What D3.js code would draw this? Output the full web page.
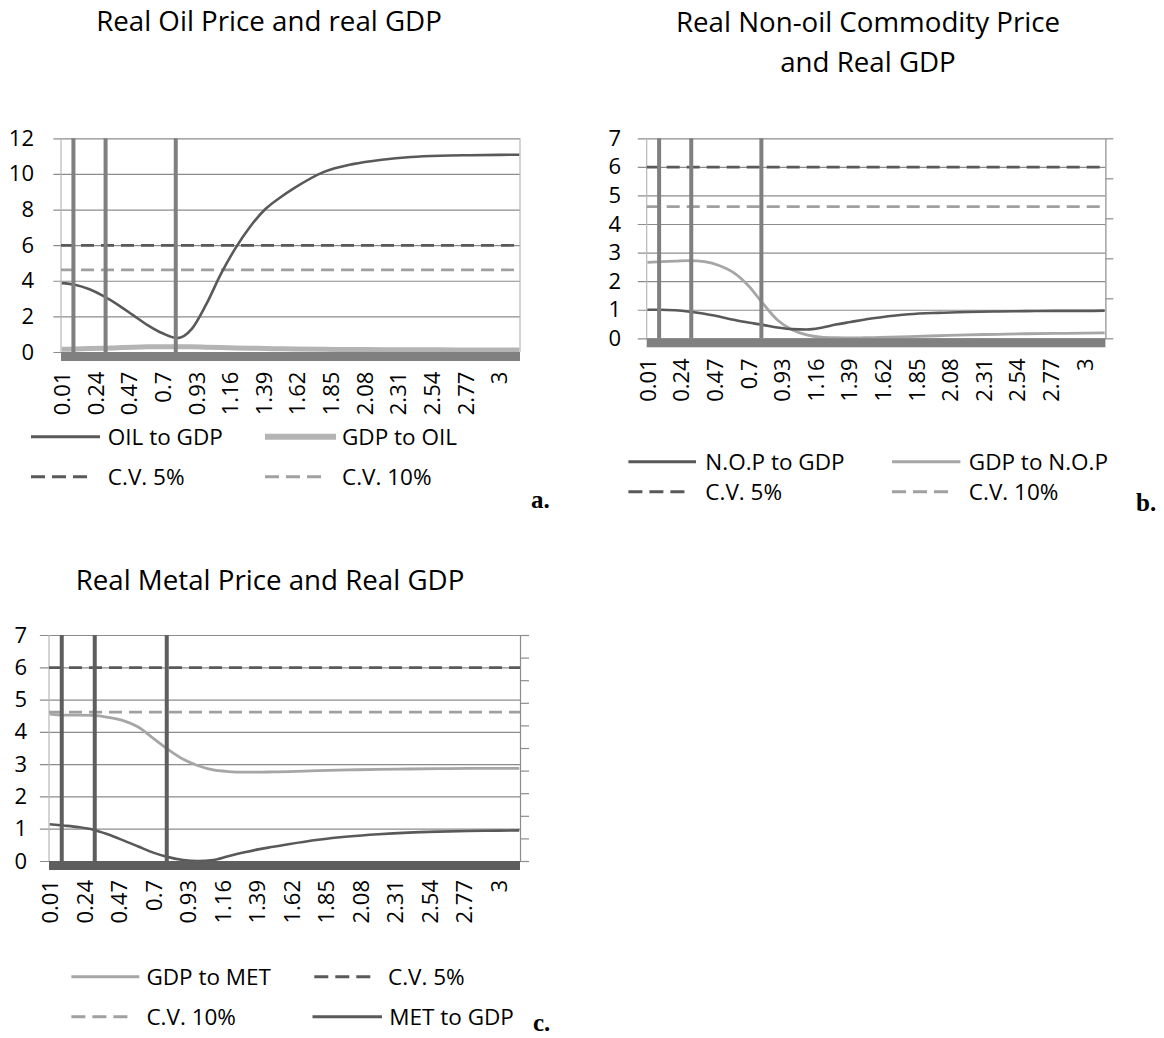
<!DOCTYPE html>
<html>
<head>
<meta charset="utf-8">
<script src="https://cdn.jsdelivr.net/npm/d3@7"></script>
<style>
  body { margin: 0; background: #fff; }
  svg { display: block; }
</style>
</head>
<body>
<svg id="chart" width="1164" height="1038"></svg>
<script>
// Frequencies (radians) at which each causality measure is sampled
const freq = [0.01, 0.1, 0.2, 0.3, 0.4, 0.5, 0.6, 0.7, 0.8, 0.9, 1.0, 1.1, 1.2, 1.3, 1.4, 1.5, 1.6, 1.8, 2.0, 2.2, 2.4, 2.6, 2.8, 3.0, 3.14];

// Category tick labels shown under each panel
const freqTickValues = [0.01, 0.24, 0.47, 0.7, 0.93, 1.16, 1.39, 1.62, 1.85, 2.08, 2.31, 2.54, 2.77, 3.0];
const freqTickLabels = ["0.01", "0.24", "0.47", "0.7", "0.93", "1.16", "1.39", "1.62", "1.85", "2.08", "2.31", "2.54", "2.77", "3"];

// Frequencies where the bound series spikes off the scale
const breakFreqs = [0.09, 0.31, 0.79];

// Critical values of the test statistic
const cv5 = 5.99;
const cv10 = 4.61;

// Panel a: oil
const oilToGdp = [3.87, 3.78, 3.52, 3.12, 2.62, 2.06, 1.5, 1.05, 0.78, 1.3, 2.7, 4.4, 5.85, 7.05, 8.0, 8.65, 9.2, 10.1, 10.55, 10.8, 10.95, 11.02, 11.05, 11.07, 11.08];
const gdpToOil = [0.15, 0.17, 0.19, 0.21, 0.24, 0.27, 0.29, 0.3, 0.3, 0.29, 0.27, 0.25, 0.23, 0.21, 0.2, 0.18, 0.17, 0.15, 0.14, 0.13, 0.12, 0.12, 0.11, 0.11, 0.11];

// Panel b: non-oil commodities
const nopToGdp = [1.0, 1.0, 0.98, 0.93, 0.86, 0.76, 0.65, 0.55, 0.47, 0.38, 0.32, 0.31, 0.37, 0.48, 0.57, 0.66, 0.73, 0.84, 0.89, 0.92, 0.94, 0.95, 0.96, 0.96, 0.97];
const gdpToNop = [2.66, 2.68, 2.7, 2.72, 2.68, 2.55, 2.3, 1.85, 1.22, 0.64, 0.3, 0.12, 0.04, 0.02, 0.01, 0.02, 0.03, 0.06, 0.09, 0.12, 0.14, 0.16, 0.17, 0.18, 0.19];

// Panel c: metals
const gdpToMet = [4.55, 4.52, 4.52, 4.51, 4.45, 4.35, 4.15, 3.8, 3.45, 3.15, 2.95, 2.82, 2.77, 2.75, 2.75, 2.76, 2.77, 2.8, 2.82, 2.84, 2.85, 2.86, 2.87, 2.87, 2.87];
const metToGdp = [1.14, 1.1, 1.05, 0.97, 0.82, 0.64, 0.45, 0.26, 0.12, 0.03, 0.0, 0.03, 0.15, 0.26, 0.36, 0.44, 0.52, 0.66, 0.76, 0.83, 0.88, 0.91, 0.93, 0.94, 0.95];

const FONT = "'Open Sans', 'Noto Sans', sans-serif";
const DARK = "#595959";
const LIGHT = "#a6a6a6";
const GRID = "#8c8c8c";

const styles = {
  dark:   { color: DARK, width: 2.6 },
  light:  { color: LIGHT, width: 2.8 },
  thick:  { color: "#b4b4b4", width: 5 },
  cv5:    { color: DARK, width: 2.6, dash: "13,7" },
  cv10:   { color: "#a0a0a0", width: 2.6, dash: "13,7" }
};

const panels = [
  {
    title: ["Real Oil Price and real GDP"], titleX: 269, titleY: [31],
    left: 61, right: 520, top: 138.3, bottom: 352, yMax: 12, yStep: 2,
    gridStart: 53.4, labelRight: 34, secTicks: 0, secTickLen: 0,
    catLabelTop: 371.7, bandColor: "#808080", spikeColor: "#7f7f7f",
    series: [
      { values: gdpToOil, style: "thick" },
      { values: oilToGdp, style: "dark" }
    ],
    legend: [
      { label: "OIL to GDP", style: "dark", x0: 31, x1: 100, tx: 107.8, y: 436.7 },
      { label: "GDP to OIL", style: "thick", x0: 265, x1: 336, tx: 342, y: 436.7 },
      { label: "C.V. 5%", style: "cv5", x0: 31, x1: 88, tx: 107.8, y: 476.7 },
      { label: "C.V. 10%", style: "cv10", x0: 265, x1: 322, tx: 342, y: 476.7 }
    ],
    letter: "a.", letterX: 531, letterY: 508
  },
  {
    title: ["Real Non-oil Commodity Price", "and Real GDP"], titleX: 868, titleY: [31.7, 71.7],
    left: 646.7, right: 1105.4, top: 138.3, bottom: 338.3, yMax: 7, yStep: 1,
    gridStart: 637.8, labelRight: 621, secTicks: 5, secTickLen: 8,
    catLabelTop: 358.3, bandColor: "#808080", spikeColor: "#7f7f7f",
    series: [
      { values: gdpToNop, style: "light" },
      { values: nopToGdp, style: "dark" }
    ],
    legend: [
      { label: "N.O.P to GDP", style: "dark", x0: 628.4, x1: 696, tx: 705.3, y: 461.7 },
      { label: "GDP to N.O.P", style: "light", x0: 892, x1: 960.4, tx: 968.8, y: 461.7 },
      { label: "C.V. 5%", style: "cv5", x0: 628.4, x1: 685.4, tx: 705.3, y: 491.7 },
      { label: "C.V. 10%", style: "cv10", x0: 892, x1: 949, tx: 968.8, y: 491.7 }
    ],
    letter: "b.", letterX: 1136, letterY: 511
  },
  {
    title: ["Real Metal Price and Real GDP"], titleX: 270, titleY: [590],
    left: 49, right: 520, top: 635, bottom: 861, yMax: 7, yStep: 1,
    gridStart: 39.9, labelRight: 27, secTicks: 10, secTickLen: 9,
    catLabelTop: 880, bandColor: "#5e5e5e", spikeColor: "#5e5e5e",
    series: [
      { values: gdpToMet, style: "light" },
      { values: metToGdp, style: "dark" }
    ],
    legend: [
      { label: "GDP to MET", style: "light", x0: 71.4, x1: 139.3, tx: 146.4, y: 976.7 },
      { label: "C.V. 5%", style: "cv5", x0: 314.3, x1: 371.3, tx: 388, y: 976.7 },
      { label: "C.V. 10%", style: "cv10", x0: 71.4, x1: 128.4, tx: 146.4, y: 1016.7 },
      { label: "MET to GDP", style: "dark", x0: 312.5, x1: 382, tx: 389.3, y: 1016.7 }
    ],
    letter: "c.", letterX: 533, letterY: 1031
  }
];

const svg = d3.select("#chart");

function applyStroke(sel, st) {
  sel.attr("stroke", st.color).attr("stroke-width", st.width).attr("fill", "none");
  if (st.dash) sel.attr("stroke-dasharray", st.dash);
  return sel;
}

panels.forEach(p => {
  const g = svg.append("g");
  const x = d3.scaleLinear().domain([0.005, 3.145]).range([p.left, p.right]);
  const y = d3.scaleLinear().domain([0, p.yMax]).range([p.bottom, p.top]);

  // Title
  p.title.forEach((t, i) => {
    g.append("text")
      .attr("x", p.titleX).attr("y", p.titleY[i])
      .attr("text-anchor", "middle")
      .attr("font-family", FONT).attr("font-size", 27.7)
      .attr("fill", "#000")
      .text(t);
  });

  // Value axis with gridlines
  const yAxis = d3.axisLeft(y)
    .tickValues(d3.range(0, p.yMax + 0.001, p.yStep))
    .tickSize(-(p.right - p.gridStart))
    .tickPadding(p.gridStart - p.labelRight)
    .tickFormat(d3.format("d"));
  const ga = g.append("g")
    .attr("transform", `translate(${p.gridStart},0)`)
    .call(yAxis)
    .attr("font-family", FONT).attr("font-size", 22);
  ga.select(".domain").remove();
  ga.selectAll(".tick line").attr("stroke", GRID).attr("stroke-width", 1.2);
  ga.selectAll(".tick text").attr("fill", "#000");

  // Plot area borders
  g.append("line").attr("x1", p.left).attr("x2", p.left).attr("y1", p.top).attr("y2", p.bottom)
    .attr("stroke", "#b8b8b8").attr("stroke-width", 1.2);
  if (p.secTicks) {
    const ys = d3.scaleLinear().domain([0, p.secTicks]).range([p.bottom, p.top]);
    const gs = g.append("g")
      .attr("transform", `translate(${p.right},0)`)
      .call(d3.axisRight(ys).ticks(p.secTicks).tickSizeInner(p.secTickLen).tickSizeOuter(0).tickFormat(""));
    gs.select(".domain").attr("stroke", GRID).attr("stroke-width", 1.2);
    gs.selectAll(".tick line").attr("stroke", GRID).attr("stroke-width", 1.2);
  } else {
    g.append("line").attr("x1", p.right).attr("x2", p.right).attr("y1", p.top).attr("y2", p.bottom)
      .attr("stroke", "#b8b8b8").attr("stroke-width", 1.2);
  }

  // Critical value lines
  [[cv5, "cv5"], [cv10, "cv10"]].forEach(([v, s]) => {
    applyStroke(g.append("line")
      .attr("x1", p.left).attr("x2", p.right)
      .attr("y1", y(v)).attr("y2", y(v)), styles[s]);
  });

  // Causality measures
  const line = d3.line().x((d, i) => x(freq[i])).y(d => y(d)).curve(d3.curveMonotoneX);
  p.series.forEach(s => {
    applyStroke(g.append("path").attr("d", line(s.values)), styles[s.style])
      .attr("stroke-linejoin", "round");
  });

  // Bound series: off-scale spikes and its base band
  breakFreqs.forEach(f => {
    g.append("line")
      .attr("x1", x(f)).attr("x2", x(f))
      .attr("y1", p.top).attr("y2", p.bottom)
      .attr("stroke", p.spikeColor).attr("stroke-width", 4);
  });
  g.append("rect")
    .attr("x", p.left).attr("y", p.bottom)
    .attr("width", p.right - p.left).attr("height", 9)
    .attr("fill", p.bandColor);

  // Frequency labels
  const xAxis = d3.axisBottom(x)
    .tickValues(freqTickValues)
    .tickFormat((d, i) => freqTickLabels[i])
    .tickSize(0).tickPadding(0);
  const gx = g.append("g")
    .attr("transform", `translate(0,${p.catLabelTop})`)
    .call(xAxis)
    .attr("font-family", FONT).attr("font-size", 22);
  gx.select(".domain").remove();
  gx.selectAll(".tick text")
    .attr("fill", "#000")
    .attr("transform", "rotate(-90)")
    .attr("text-anchor", "end")
    .attr("x", 0).attr("y", 0)
    .attr("dy", "0.36em");

  // Legend
  p.legend.forEach(item => {
    const st = styles[item.style];
    applyStroke(g.append("line")
      .attr("x1", item.x0).attr("x2", item.x1)
      .attr("y1", item.y).attr("y2", item.y), st)
      .attr("stroke-dasharray", st.dash ? "14,7" : null)
      .attr("stroke-width", item.style === "thick" ? 6 : 3);
    g.append("text")
      .attr("x", item.tx).attr("y", item.y)
      .attr("dy", "0.36em")
      .attr("font-family", FONT).attr("font-size", 22.5)
      .attr("fill", "#000")
      .text(item.label);
  });

  // Panel letter
  g.append("text")
    .attr("x", p.letterX).attr("y", p.letterY)
    .attr("font-family", "'Liberation Serif', 'DejaVu Serif', serif")
    .attr("font-weight", "bold").attr("font-size", 25)
    .attr("fill", "#000")
    .text(p.letter);
});
</script>
</body>
</html>
